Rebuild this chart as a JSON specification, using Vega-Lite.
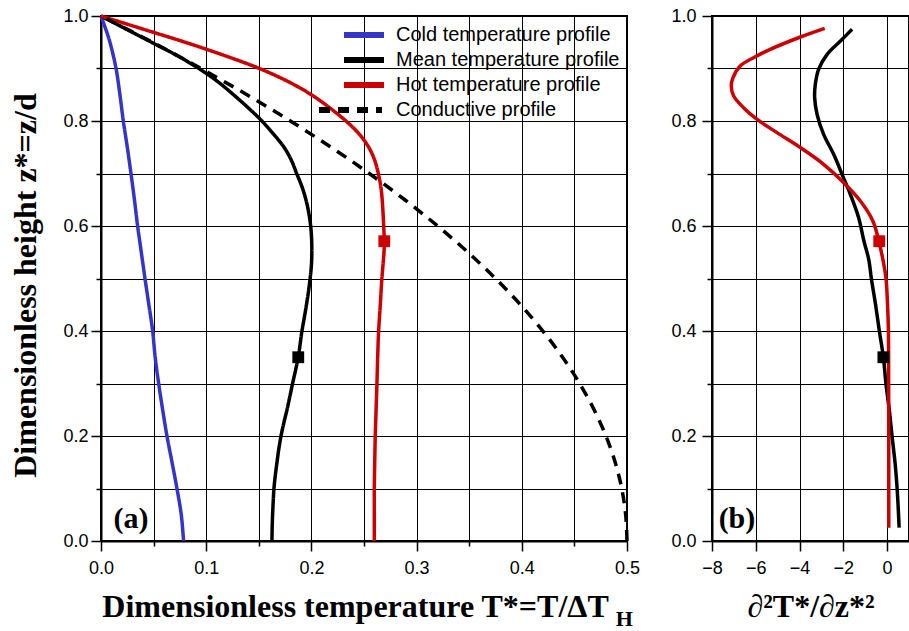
{
  "$schema": "https://vega.github.io/schema/vega-lite/v6.json",
  "padding": {"left": 8, "top": 6, "right": 0, "bottom": 0},
  "background": "white",
  "config": {
    "view": {"stroke": "black", "strokeWidth": 2},
    "axis": {
      "labelFont": "Liberation Sans", "labelFontSize": 18, "labelColor": "black",
      "titleFont": "Liberation Serif", "titleFontSize": 32, "titleFontWeight": "bold", "titleColor": "black",
      "gridColor": "black", "gridOpacity": 1, "gridWidth": 1,
      "domainColor": "black", "domainWidth": 2,
      "tickColor": "black", "tickWidth": 1.5
    }
  },
  "datasets": {
    "left": [
      {"profile": "Cold temperature profile", "T": 0, "z": 1.0},
      {"profile": "Cold temperature profile", "T": 0.0045, "z": 0.975},
      {"profile": "Cold temperature profile", "T": 0.0085, "z": 0.95},
      {"profile": "Cold temperature profile", "T": 0.0143, "z": 0.9},
      {"profile": "Cold temperature profile", "T": 0.018, "z": 0.85},
      {"profile": "Cold temperature profile", "T": 0.0212, "z": 0.8},
      {"profile": "Cold temperature profile", "T": 0.025, "z": 0.75},
      {"profile": "Cold temperature profile", "T": 0.0285, "z": 0.7},
      {"profile": "Cold temperature profile", "T": 0.0318, "z": 0.65},
      {"profile": "Cold temperature profile", "T": 0.0348, "z": 0.6},
      {"profile": "Cold temperature profile", "T": 0.0383, "z": 0.55},
      {"profile": "Cold temperature profile", "T": 0.0418, "z": 0.5},
      {"profile": "Cold temperature profile", "T": 0.0455, "z": 0.45},
      {"profile": "Cold temperature profile", "T": 0.0491, "z": 0.4},
      {"profile": "Cold temperature profile", "T": 0.0515, "z": 0.35},
      {"profile": "Cold temperature profile", "T": 0.0548, "z": 0.3},
      {"profile": "Cold temperature profile", "T": 0.0586, "z": 0.25},
      {"profile": "Cold temperature profile", "T": 0.0627, "z": 0.2},
      {"profile": "Cold temperature profile", "T": 0.0675, "z": 0.15},
      {"profile": "Cold temperature profile", "T": 0.0722, "z": 0.1},
      {"profile": "Cold temperature profile", "T": 0.0763, "z": 0.05},
      {"profile": "Cold temperature profile", "T": 0.0785, "z": 0.0},
      {"profile": "Mean temperature profile", "T": 0, "z": 1.0},
      {"profile": "Mean temperature profile", "T": 0.024, "z": 0.975},
      {"profile": "Mean temperature profile", "T": 0.048, "z": 0.95},
      {"profile": "Mean temperature profile", "T": 0.072, "z": 0.925},
      {"profile": "Mean temperature profile", "T": 0.093, "z": 0.9},
      {"profile": "Mean temperature profile", "T": 0.111, "z": 0.875},
      {"profile": "Mean temperature profile", "T": 0.126, "z": 0.85},
      {"profile": "Mean temperature profile", "T": 0.14, "z": 0.825},
      {"profile": "Mean temperature profile", "T": 0.153, "z": 0.8},
      {"profile": "Mean temperature profile", "T": 0.164, "z": 0.775},
      {"profile": "Mean temperature profile", "T": 0.174, "z": 0.75},
      {"profile": "Mean temperature profile", "T": 0.181, "z": 0.725},
      {"profile": "Mean temperature profile", "T": 0.186, "z": 0.7},
      {"profile": "Mean temperature profile", "T": 0.191, "z": 0.675},
      {"profile": "Mean temperature profile", "T": 0.1948, "z": 0.65},
      {"profile": "Mean temperature profile", "T": 0.1975, "z": 0.625},
      {"profile": "Mean temperature profile", "T": 0.1993, "z": 0.6},
      {"profile": "Mean temperature profile", "T": 0.2002, "z": 0.575},
      {"profile": "Mean temperature profile", "T": 0.2004, "z": 0.55},
      {"profile": "Mean temperature profile", "T": 0.2, "z": 0.525},
      {"profile": "Mean temperature profile", "T": 0.1988, "z": 0.5},
      {"profile": "Mean temperature profile", "T": 0.1972, "z": 0.475},
      {"profile": "Mean temperature profile", "T": 0.1953, "z": 0.45},
      {"profile": "Mean temperature profile", "T": 0.1932, "z": 0.425},
      {"profile": "Mean temperature profile", "T": 0.191, "z": 0.4},
      {"profile": "Mean temperature profile", "T": 0.1893, "z": 0.375},
      {"profile": "Mean temperature profile", "T": 0.1875, "z": 0.35},
      {"profile": "Mean temperature profile", "T": 0.1849, "z": 0.325},
      {"profile": "Mean temperature profile", "T": 0.1821, "z": 0.3},
      {"profile": "Mean temperature profile", "T": 0.1795, "z": 0.275},
      {"profile": "Mean temperature profile", "T": 0.1768, "z": 0.25},
      {"profile": "Mean temperature profile", "T": 0.1738, "z": 0.225},
      {"profile": "Mean temperature profile", "T": 0.1711, "z": 0.2},
      {"profile": "Mean temperature profile", "T": 0.169, "z": 0.175},
      {"profile": "Mean temperature profile", "T": 0.1673, "z": 0.15},
      {"profile": "Mean temperature profile", "T": 0.1657, "z": 0.125},
      {"profile": "Mean temperature profile", "T": 0.1644, "z": 0.1},
      {"profile": "Mean temperature profile", "T": 0.1637, "z": 0.075},
      {"profile": "Mean temperature profile", "T": 0.1631, "z": 0.05},
      {"profile": "Mean temperature profile", "T": 0.1627, "z": 0.025},
      {"profile": "Mean temperature profile", "T": 0.1625, "z": 0.0},
      {"profile": "Hot temperature profile", "T": 0, "z": 1.0},
      {"profile": "Hot temperature profile", "T": 0.04, "z": 0.975},
      {"profile": "Hot temperature profile", "T": 0.08, "z": 0.95},
      {"profile": "Hot temperature profile", "T": 0.117, "z": 0.925},
      {"profile": "Hot temperature profile", "T": 0.1506, "z": 0.9},
      {"profile": "Hot temperature profile", "T": 0.178, "z": 0.875},
      {"profile": "Hot temperature profile", "T": 0.2, "z": 0.85},
      {"profile": "Hot temperature profile", "T": 0.2175, "z": 0.825},
      {"profile": "Hot temperature profile", "T": 0.2329, "z": 0.8},
      {"profile": "Hot temperature profile", "T": 0.2455, "z": 0.775},
      {"profile": "Hot temperature profile", "T": 0.2545, "z": 0.75},
      {"profile": "Hot temperature profile", "T": 0.2602, "z": 0.725},
      {"profile": "Hot temperature profile", "T": 0.2636, "z": 0.7},
      {"profile": "Hot temperature profile", "T": 0.266, "z": 0.675},
      {"profile": "Hot temperature profile", "T": 0.2673, "z": 0.65},
      {"profile": "Hot temperature profile", "T": 0.2681, "z": 0.625},
      {"profile": "Hot temperature profile", "T": 0.2687, "z": 0.6},
      {"profile": "Hot temperature profile", "T": 0.2693, "z": 0.57},
      {"profile": "Hot temperature profile", "T": 0.269, "z": 0.55},
      {"profile": "Hot temperature profile", "T": 0.267, "z": 0.5},
      {"profile": "Hot temperature profile", "T": 0.2655, "z": 0.45},
      {"profile": "Hot temperature profile", "T": 0.2639, "z": 0.4},
      {"profile": "Hot temperature profile", "T": 0.263, "z": 0.35},
      {"profile": "Hot temperature profile", "T": 0.2623, "z": 0.3},
      {"profile": "Hot temperature profile", "T": 0.2615, "z": 0.25},
      {"profile": "Hot temperature profile", "T": 0.2607, "z": 0.2},
      {"profile": "Hot temperature profile", "T": 0.2602, "z": 0.15},
      {"profile": "Hot temperature profile", "T": 0.2598, "z": 0.1},
      {"profile": "Hot temperature profile", "T": 0.2598, "z": 0.05},
      {"profile": "Hot temperature profile", "T": 0.2598, "z": 0.0},
      {"profile": "Conductive profile", "T": 0.5, "z": 0.0},
      {"profile": "Conductive profile", "T": 0.49875, "z": 0.05},
      {"profile": "Conductive profile", "T": 0.495, "z": 0.1},
      {"profile": "Conductive profile", "T": 0.48875, "z": 0.15},
      {"profile": "Conductive profile", "T": 0.48, "z": 0.2},
      {"profile": "Conductive profile", "T": 0.46875, "z": 0.25},
      {"profile": "Conductive profile", "T": 0.455, "z": 0.3},
      {"profile": "Conductive profile", "T": 0.43875, "z": 0.35},
      {"profile": "Conductive profile", "T": 0.42, "z": 0.4},
      {"profile": "Conductive profile", "T": 0.39875, "z": 0.45},
      {"profile": "Conductive profile", "T": 0.375, "z": 0.5},
      {"profile": "Conductive profile", "T": 0.34875, "z": 0.55},
      {"profile": "Conductive profile", "T": 0.32, "z": 0.6},
      {"profile": "Conductive profile", "T": 0.28875, "z": 0.65},
      {"profile": "Conductive profile", "T": 0.255, "z": 0.7},
      {"profile": "Conductive profile", "T": 0.21875, "z": 0.75},
      {"profile": "Conductive profile", "T": 0.18, "z": 0.8},
      {"profile": "Conductive profile", "T": 0.13875, "z": 0.85},
      {"profile": "Conductive profile", "T": 0.095, "z": 0.9},
      {"profile": "Conductive profile", "T": 0.04875, "z": 0.95},
      {"profile": "Conductive profile", "T": 0, "z": 1.0}
    ],
    "right": [
      {"profile": "Mean", "d2T": -1.6, "z": 0.9746},
      {"profile": "Mean", "d2T": -2.13, "z": 0.9524},
      {"profile": "Mean", "d2T": -2.74, "z": 0.927},
      {"profile": "Mean", "d2T": -3.13, "z": 0.8984},
      {"profile": "Mean", "d2T": -3.28, "z": 0.8699},
      {"profile": "Mean", "d2T": -3.31, "z": 0.8444},
      {"profile": "Mean", "d2T": -3.2, "z": 0.8127},
      {"profile": "Mean", "d2T": -2.9, "z": 0.7746},
      {"profile": "Mean", "d2T": -2.44, "z": 0.7365},
      {"profile": "Mean", "d2T": -2.06, "z": 0.6984},
      {"profile": "Mean", "d2T": -1.68, "z": 0.6603},
      {"profile": "Mean", "d2T": -1.3, "z": 0.6158},
      {"profile": "Mean", "d2T": -1.06, "z": 0.5714},
      {"profile": "Mean", "d2T": -0.84, "z": 0.5365},
      {"profile": "Mean", "d2T": -0.72, "z": 0.5},
      {"profile": "Mean", "d2T": -0.53, "z": 0.451},
      {"profile": "Mean", "d2T": -0.35, "z": 0.3987},
      {"profile": "Mean", "d2T": -0.17, "z": 0.35},
      {"profile": "Mean", "d2T": -0.05, "z": 0.2984},
      {"profile": "Mean", "d2T": 0.105, "z": 0.2476},
      {"profile": "Mean", "d2T": 0.23, "z": 0.198},
      {"profile": "Mean", "d2T": 0.37, "z": 0.146},
      {"profile": "Mean", "d2T": 0.46, "z": 0.0984},
      {"profile": "Mean", "d2T": 0.55, "z": 0.0254},
      {"profile": "Hot", "d2T": -2.85, "z": 0.9765},
      {"profile": "Hot", "d2T": -3.96, "z": 0.96},
      {"profile": "Hot", "d2T": -5.34, "z": 0.9365},
      {"profile": "Hot", "d2T": -6.1, "z": 0.9206},
      {"profile": "Hot", "d2T": -6.71, "z": 0.9048},
      {"profile": "Hot", "d2T": -7.04, "z": 0.8825},
      {"profile": "Hot", "d2T": -7.12, "z": 0.8667},
      {"profile": "Hot", "d2T": -7.01, "z": 0.8476},
      {"profile": "Hot", "d2T": -6.56, "z": 0.8254},
      {"profile": "Hot", "d2T": -5.94, "z": 0.8032},
      {"profile": "Hot", "d2T": -5.03, "z": 0.7778},
      {"profile": "Hot", "d2T": -3.96, "z": 0.7492},
      {"profile": "Hot", "d2T": -2.9, "z": 0.7175},
      {"profile": "Hot", "d2T": -1.98, "z": 0.6825},
      {"profile": "Hot", "d2T": -1.22, "z": 0.6476},
      {"profile": "Hot", "d2T": -0.65, "z": 0.6095},
      {"profile": "Hot", "d2T": -0.38, "z": 0.5714},
      {"profile": "Hot", "d2T": -0.18, "z": 0.5333},
      {"profile": "Hot", "d2T": -0.05, "z": 0.5},
      {"profile": "Hot", "d2T": 0.02, "z": 0.45},
      {"profile": "Hot", "d2T": 0.06, "z": 0.4},
      {"profile": "Hot", "d2T": 0.07, "z": 0.3},
      {"profile": "Hot", "d2T": 0.075, "z": 0.2},
      {"profile": "Hot", "d2T": 0.075, "z": 0.1},
      {"profile": "Hot", "d2T": 0.075, "z": 0.0254}
    ]
  },
  "spacing": 28,
  "resolve": {
    "scale": {"color": "independent", "strokeDash": "independent"},
    "legend": {"color": "independent", "strokeDash": "independent"}
  },
  "hconcat": [
    {
      "width": 526,
      "height": 525,
      "layer": [
        {
          "data": {"name": "left"},
          "mark": {"type": "line", "strokeWidth": 3.5, "interpolate": "catmull-rom"},
          "encoding": {
            "x": {
              "field": "T", "type": "quantitative",
              "scale": {"domain": [0, 0.5], "nice": false, "zero": false},
              "axis": {
                "title": "Dimensionless temperature T*=T/ΔT",
                "titleX": 254, "titleAnchor": "middle", "titlePadding": 14,
                "values": [0, 0.05, 0.1, 0.15, 0.2, 0.25, 0.3, 0.35, 0.4, 0.45, 0.5],
                "labelExpr": "round(datum.value*100) % 10 == 0 ? format(datum.value, '.1f') : ''",
                "tickSize": {"condition": {"test": "round(datum.value*100) % 10 == 0", "value": 10}, "value": 5},
                "labelPadding": 8, "labelFlush": false, "labelOverlap": false
              }
            },
            "y": {
              "field": "z", "type": "quantitative",
              "scale": {"domain": [0, 1], "nice": false},
              "axis": {
                "title": "Dimensionless height z*=z/d",
                "titlePadding": 20, "titleY": 269,
                "values": [0, 0.1, 0.2, 0.3, 0.4, 0.5, 0.6, 0.7, 0.8, 0.9, 1.0],
                "labelExpr": "round(datum.value*10) % 2 == 0 ? format(datum.value, '.1f') : ''",
                "tickSize": {"condition": {"test": "round(datum.value*10) % 2 == 0", "value": 10}, "value": 5},
                "labelPadding": 3, "labelFlush": false, "labelOverlap": false
              }
            },
            "color": {
              "field": "profile", "type": "nominal",
              "scale": {
                "domain": ["Cold temperature profile", "Mean temperature profile", "Hot temperature profile", "Conductive profile"],
                "range": ["#3434c8", "#000000", "#cc0000", "#000000"]
              },
              "legend": {
                "orient": "none", "legendX": 250, "legendY": 6, "title": null,
                "symbolType": "M-2,0L2,0", "symbolSize": 400, "symbolStrokeWidth": 6,
                "labelFont": "Liberation Sans", "labelFontSize": 20, "labelColor": "black",
                "labelOffset": 19, "rowPadding": 0, "padding": 0, "labelLimit": 400,
                "encode": {"symbols": {"update": {"shape": [{"test": "datum.value == 'Conductive profile'", "value": "M-4.5,0L1.8,0"}, {"value": "M-2,0L2,0"}]}}}
              }
            },
            "strokeDash": {
              "field": "profile", "type": "nominal",
              "scale": {
                "domain": ["Cold temperature profile", "Mean temperature profile", "Hot temperature profile", "Conductive profile"],
                "range": [[1, 0], [1, 0], [1, 0], [11, 8]]
              },
              "legend": {
                "orient": "none", "legendX": 250, "legendY": 6, "title": null,
                "symbolType": "M-2,0L2,0", "symbolSize": 400, "symbolStrokeWidth": 6,
                "labelFont": "Liberation Sans", "labelFontSize": 20, "labelColor": "black",
                "labelOffset": 19, "rowPadding": 0, "padding": 0, "labelLimit": 400,
                "encode": {"symbols": {"update": {"shape": [{"test": "datum.value == 'Conductive profile'", "value": "M-4.5,0L1.8,0"}, {"value": "M-2,0L2,0"}]}}}
              }
            },
            "order": {"field": "z", "type": "quantitative"}
          }
        },
        {
          "data": {"values": [{"T": 0.1875, "z": 0.35}]},
          "mark": {"type": "point", "shape": "square", "filled": true, "opacity": 1, "size": 140, "color": "black"},
          "encoding": {
            "x": {"field": "T", "type": "quantitative"},
            "y": {"field": "z", "type": "quantitative"}
          }
        },
        {
          "data": {"values": [{"T": 0.2693, "z": 0.571}]},
          "mark": {"type": "point", "shape": "square", "filled": true, "opacity": 1, "size": 140, "color": "#cc0000"},
          "encoding": {
            "x": {"field": "T", "type": "quantitative"},
            "y": {"field": "z", "type": "quantitative"}
          }
        },
        {
          "data": {"values": [{"label": "(a)"}]},
          "mark": {"type": "text", "font": "Liberation Serif", "fontWeight": "bold", "fontSize": 30, "align": "center", "baseline": "alphabetic", "color": "black"},
          "encoding": {
            "x": {"datum": 0.0285, "type": "quantitative"},
            "y": {"datum": 0.0253, "type": "quantitative"},
            "text": {"field": "label"}
          }
        },
        {
          "data": {"values": [{"label": "H"}]},
          "mark": {"type": "text", "font": "Liberation Serif", "fontWeight": "bold", "fontSize": 22, "align": "center", "baseline": "alphabetic", "color": "black"},
          "encoding": {
            "x": {"datum": 0.4975, "type": "quantitative"},
            "y": {"datum": -0.161, "type": "quantitative"},
            "text": {"field": "label"}
          }
        }
      ]
    },
    {
      "width": 197,
      "height": 525,
      "layer": [
        {
          "data": {"name": "right"},
          "transform": [{"filter": "datum.profile == 'Mean'"}],
          "mark": {"type": "line", "strokeWidth": 3.5, "color": "black", "interpolate": "catmull-rom"},
          "encoding": {
            "x": {
              "field": "d2T", "type": "quantitative",
              "scale": {"domain": [-8, 1], "nice": false, "zero": false},
              "axis": {
                "title": "∂²T*/∂z*²", "titlePadding": 14,
                "values": [-8, -6, -4, -2, 0],
                "format": "d",
                "tickSize": 10, "labelPadding": 8, "labelFlush": false, "labelOverlap": false
              }
            },
            "y": {
              "field": "z", "type": "quantitative",
              "scale": {"domain": [0, 1], "nice": false},
              "axis": {
                "title": null,
                "values": [0, 0.1, 0.2, 0.3, 0.4, 0.5, 0.6, 0.7, 0.8, 0.9, 1.0],
                "labelExpr": "round(datum.value*10) % 2 == 0 ? format(datum.value, '.1f') : ''",
                "tickSize": {"condition": {"test": "round(datum.value*10) % 2 == 0", "value": 10}, "value": 5},
                "labelPadding": 6, "labelFlush": false, "labelOverlap": false
              }
            },
            "order": {"field": "z", "type": "quantitative"}
          }
        },
        {
          "data": {"name": "right"},
          "transform": [{"filter": "datum.profile == 'Hot'"}],
          "mark": {"type": "line", "strokeWidth": 3.5, "color": "#cc0000", "interpolate": "catmull-rom"},
          "encoding": {
            "x": {"field": "d2T", "type": "quantitative"},
            "y": {"field": "z", "type": "quantitative"},
            "order": {"field": "z", "type": "quantitative"}
          }
        },
        {
          "data": {"values": [{"d2T": -0.17, "z": 0.35}]},
          "mark": {"type": "point", "shape": "square", "filled": true, "opacity": 1, "size": 140, "color": "black"},
          "encoding": {
            "x": {"field": "d2T", "type": "quantitative"},
            "y": {"field": "z", "type": "quantitative"}
          }
        },
        {
          "data": {"values": [{"d2T": -0.36, "z": 0.571}]},
          "mark": {"type": "point", "shape": "square", "filled": true, "opacity": 1, "size": 140, "color": "#cc0000"},
          "encoding": {
            "x": {"field": "d2T", "type": "quantitative"},
            "y": {"field": "z", "type": "quantitative"}
          }
        },
        {
          "data": {"values": [{"label": "(b)"}]},
          "mark": {"type": "text", "font": "Liberation Serif", "fontWeight": "bold", "fontSize": 30, "align": "center", "baseline": "alphabetic", "color": "black"},
          "encoding": {
            "x": {"datum": -6.86, "type": "quantitative"},
            "y": {"datum": 0.0253, "type": "quantitative"},
            "text": {"field": "label"}
          }
        }
      ]
    }
  ]
}
